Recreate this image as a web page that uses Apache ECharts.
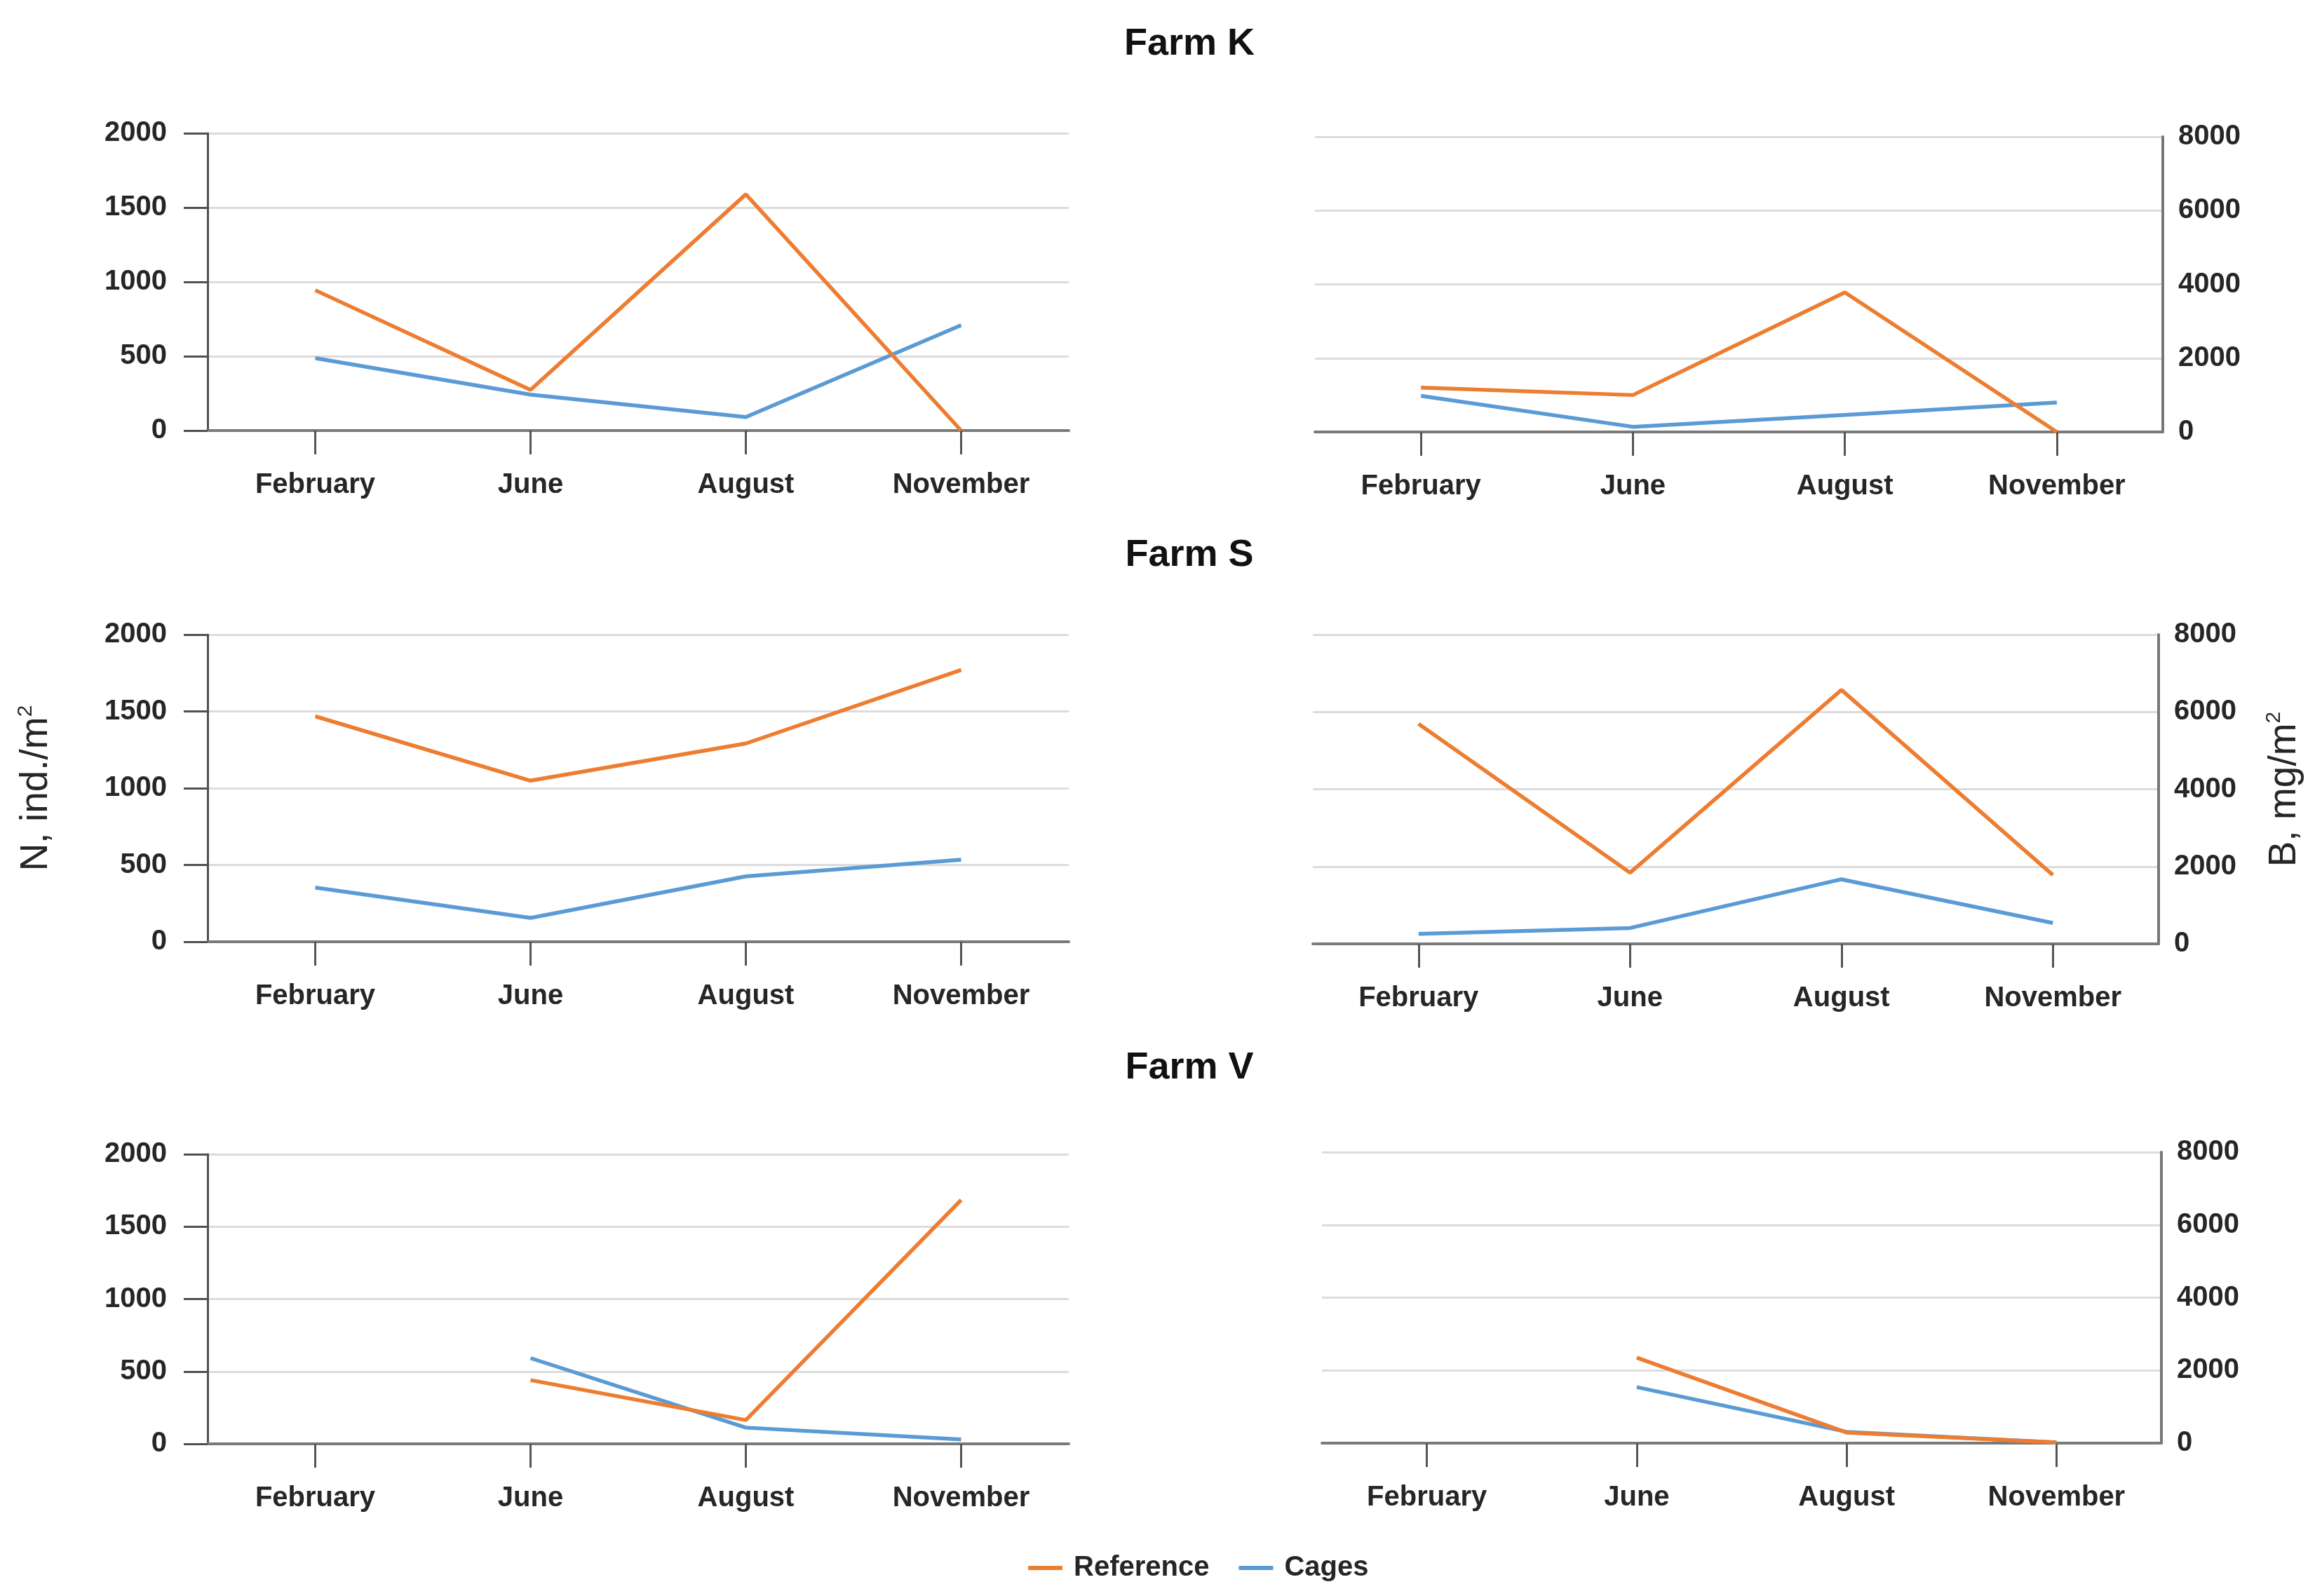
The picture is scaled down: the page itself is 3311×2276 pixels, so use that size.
<!DOCTYPE html>
<html>
<head>
<meta charset="utf-8">
<script src="https://cdn.jsdelivr.net/npm/echarts@6/dist/echarts.min.js"></script>
<style>html,body{margin:0;padding:0;background:#fff;}#c{width:3311px;height:2276px;}</style>
</head>
<body>
<div id="c"></div>
<script>
const months = ['February', 'June', 'August', 'November'];
const farms = ['Farm K', 'Farm S', 'Farm V'];
const seriesNames = ['Reference', 'Cages'];
const nTicks = [0, 500, 1000, 1500, 2000];
const bTicks = [0, 2000, 4000, 6000, 8000];

// Abundance N, ind./m2
const nRefK = [944, 274, 1589, 0];
const nCagK = [487, 242, 91, 709];
const nRefS = [1468, 1049, 1291, 1770];
const nCagS = [353, 155, 426, 534];
const nRefV = [null, 440, 164, 1684];
const nCagV = [null, 592, 112, 30];

// Biomass B, mg/m2
const bRefK = [1200, 1000, 3780, 0];
const bCagK = [980, 140, 460, 800];
const bRefS = [5690, 1840, 6570, 1780];
const bCagS = [260, 410, 1670, 540];
const bRefV = [null, 2350, 290, 20];
const bCagV = [null, 1540, 310, 20];

const ORANGE = '#ED7D31', BLUE = '#5B9BD5';
const TXT = '#262626';
const FONT = 'Liberation Sans';

const grids = [
  {left: 296, top: 190, width: 1228, height: 424},
  {left: 1875, top: 195, width: 1209, height: 421},
  {left: 296, top: 905, width: 1228, height: 438},
  {left: 1872, top: 905, width: 1206, height: 441},
  {left: 296, top: 1646, width: 1228, height: 413},
  {left: 1885, top: 1643, width: 1197, height: 415}
];

const panelData = [
  [nRefK, nCagK], [bRefK, bCagK],
  [nRefS, nCagS], [bRefS, bCagS],
  [nRefV, nCagV], [bRefV, bCagV]
];

const xAxes = grids.map((g, i) => ({
  type: 'category', gridIndex: i, data: months, boundaryGap: true,
  axisLine: {show: true, lineStyle: {color: '#7a7a7a', width: 4}},
  axisTick: {show: true, alignWithLabel: true, length: 34, lineStyle: {color: '#555', width: 3}},
  axisLabel: {color: TXT, fontFamily: FONT, fontWeight: 'bold', fontSize: 40, margin: 58},
  splitLine: {show: false}
}));

const yAxes = grids.map((g, i) => {
  const right = i % 2 === 1;
  const ticks = right ? bTicks : nTicks;
  const ax = {
    type: 'value', gridIndex: i, position: right ? 'right' : 'left',
    min: ticks[0], max: ticks[ticks.length - 1], interval: ticks[1] - ticks[0],
    axisLine: {show: true, lineStyle: {color: right ? '#777' : '#505050', width: right ? 4 : 3}},
    axisTick: {show: !right, length: 34, lineStyle: {color: '#505050', width: 3}},
    axisLabel: {color: TXT, fontFamily: FONT, fontWeight: 'bold', fontSize: 40, margin: right ? 22 : 58,
      formatter: v => String(v)},
    splitLine: {show: true, lineStyle: {color: '#dcdcdc', width: 3}}
  };
  if (i === 2) {
    ax.name = '{a|N, ind./m}{s|2}';
    ax.nameLocation = 'middle';
    ax.nameRotate = 90;
    ax.nameGap = 214;
    ax.nameTextStyle = {rich: {
      a: {fontFamily: FONT, fontSize: 55, color: TXT, lineHeight: 60},
      s: {fontFamily: FONT, fontSize: 30, color: TXT, verticalAlign: 'top', lineHeight: 60, padding: [0, 0, 22, 0]}
    }};
  }
  if (i === 3) {
    ax.name = '{a|B, mg/m}{s|2}';
    ax.nameLocation = 'middle';
    ax.nameRotate = 90;
    ax.nameGap = 150;
    ax.nameTextStyle = {rich: {
      a: {fontFamily: FONT, fontSize: 55, color: TXT, lineHeight: 60},
      s: {fontFamily: FONT, fontSize: 30, color: TXT, verticalAlign: 'top', lineHeight: 60, padding: [0, 0, 22, 0]}
    }};
  }
  return ax;
});

const series = [];
panelData.forEach((pair, i) => {
  // Cages drawn first, Reference on top
  series.push({
    name: seriesNames[1], type: 'line', xAxisIndex: i, yAxisIndex: i,
    data: pair[1].map(v => v === null ? '-' : v), symbol: 'none', connectNulls: false,
    lineStyle: {color: BLUE, width: 5.5}, itemStyle: {color: BLUE}, z: 2
  });
  series.push({
    name: seriesNames[0], type: 'line', xAxisIndex: i, yAxisIndex: i,
    data: pair[0].map(v => v === null ? '-' : v), symbol: 'none', connectNulls: false,
    lineStyle: {color: ORANGE, width: 5.5}, itemStyle: {color: ORANGE}, z: 3
  });
});

const titleTops = [31, 760, 1491];
const titles = farms.map((f, i) => ({
  text: f, left: 1691, top: titleTops[i], textAlign: 'center',
  textStyle: {fontFamily: FONT, fontWeight: 'bold', fontSize: 54, color: '#111'}
}));

const chart = echarts.init(document.getElementById('c'), null, {renderer: 'canvas'});
chart.setOption({
  backgroundColor: '#fff',
  animation: false,
  title: titles,
  legend: {
    data: seriesNames, left: 1461, top: 2211, icon: 'rect', itemWidth: 49, itemHeight: 6, itemGap: 42,
    textStyle: {fontFamily: FONT, fontWeight: 'bold', fontSize: 40, color: TXT, padding: [0, 0, 0, 11]}
  },
  grid: grids,
  xAxis: xAxes,
  yAxis: yAxes,
  series: series
});
</script>
</body>
</html>
